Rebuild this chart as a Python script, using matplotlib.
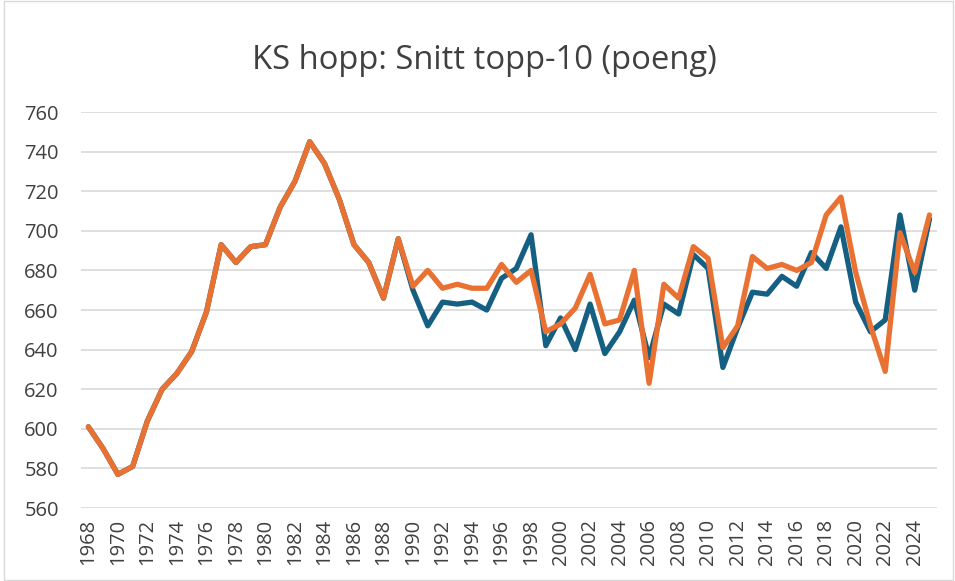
import matplotlib
matplotlib.use("Agg")
import matplotlib.pyplot as plt
from matplotlib.patches import Rectangle

years = list(range(1968, 2026))

orange_vals = [601, 590, 577, 581, 604, 620, 628, 639, 659, 693, 684, 692, 693, 712, 725, 745,
               734, 716, 693, 684, 666, 696, 672, 680, 671, 673, 671, 671, 683, 674, 680, 649,
               653, 661, 678, 653, 655, 680, 623, 673, 666, 692, 686, 641, 652, 687, 681, 683,
               680, 684, 708, 717, 679, 652, 629, 699, 679, 708]

blue_vals = [601, 590, 577, 581, 604, 620, 628, 639, 659, 693, 684, 692, 693, 712, 725, 745,
             734, 716, 693, 684, 666, 696, 670, 652, 664, 663, 664, 660, 676, 681, 698, 642,
             656, 640, 663, 638, 649, 665, 636, 663, 658, 688, 681, 631, 651, 669, 668, 677,
             672, 689, 681, 702, 664, 649, 655, 708, 670, 706]

yticks = list(range(560, 761, 20))
title = "KS hopp: Snitt topp-10 (poeng)"

plt.rcParams['font.family'] = ['Open Sans', 'DejaVu Sans']

fig = plt.figure(figsize=(9.55, 5.81), dpi=100)
fig.patches.append(Rectangle((0.004, 0.001), 0.994, 0.997, transform=fig.transFigure,
                             fill=False, edgecolor='#D9D9D9', linewidth=1.0))
ax = fig.add_axes([0.0848, 0.1256, 0.8962, 0.6816])

x = list(range(len(years)))
ax.plot(x, blue_vals, color='#156082', linewidth=3.8, solid_joinstyle='round', solid_capstyle='round')
ax.plot(x, orange_vals, color='#E97132', linewidth=3.8, solid_joinstyle='round', solid_capstyle='round')

ax.set_xlim(-0.5, len(years) - 0.5)
ax.set_ylim(560, 760)
ax.set_yticks(yticks)
ax.set_yticklabels([str(v) for v in yticks], fontsize=14.5, color='#404040')
ax.set_xticks(x[::2])
ax.set_xticklabels([str(y) for y in years[::2]], rotation=90, fontsize=14.5, color='#404040')
ax.tick_params(axis='both', length=0)
ax.tick_params(axis='y', pad=16)
ax.tick_params(axis='x', pad=8)
for s in ax.spines.values():
    s.set_visible(False)
ax.grid(axis='y', color='#D9D9D9', linewidth=1.2)
ax.set_axisbelow(True)

fig.text(0.507, 0.881, title, ha='center', va='baseline', fontsize=23.6, color='#404040')

fig.savefig('out.png', dpi=100)
